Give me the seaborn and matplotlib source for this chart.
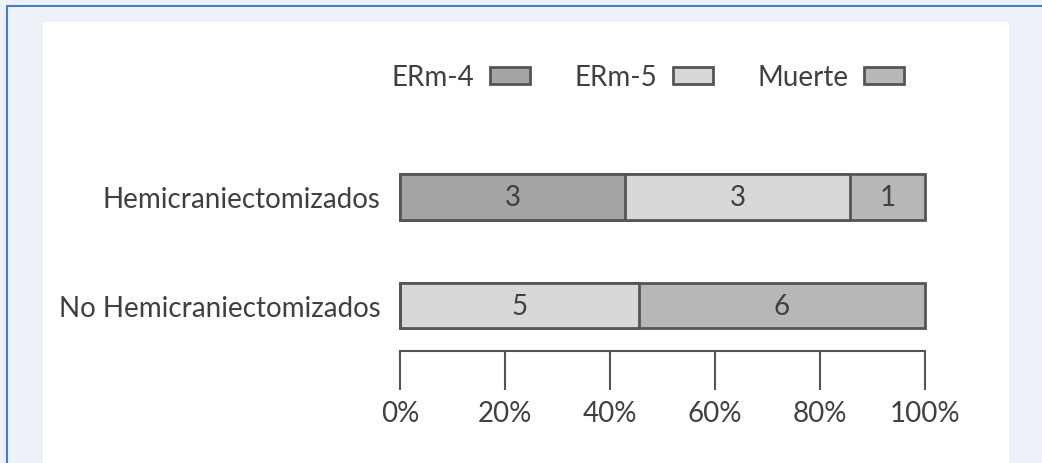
import numpy as np
import pandas as pd
import matplotlib
matplotlib.use("Agg")
import matplotlib.pyplot as plt
import seaborn as sns
from matplotlib.patches import Patch, Rectangle
from matplotlib.lines import Line2D
from matplotlib.ticker import PercentFormatter

# data
groups = ["Hemicraniectomizados", "No Hemicraniectomizados"]
series = ["ERm-4", "ERm-5", "Muerte"]
erm4 = [3, 0]
erm5 = [3, 5]
muerte = [1, 6]
colors = ["#a4a5a7", "#d7d8da", "#b6b7b9"]

sns.set_theme(style="white")
plt.rcParams["font.family"] = ["Lato", "DejaVu Sans"]
text_col = "#404040"
edge_col = "#555555"
fs = 20

counts = np.array([erm4, erm5, muerte], dtype=float)
props = counts / counts.sum(axis=0)
cum = np.cumsum(props, axis=0)

fig = plt.figure(figsize=(10.42, 4.64), dpi=100)
fig.patch.set_facecolor("#eef1f8")
# white panel and blue frame
fig.patches.append(Rectangle((43 / 1042, 0), (1009 - 43) / 1042, 1 - 23 / 464,
                             transform=fig.transFigure, facecolor="white",
                             edgecolor="none", zorder=-1))
fig.lines.append(Line2D([7 / 1042, 7 / 1042], [0, 1 - 7 / 464], transform=fig.transFigure,
                        color="#4a7ebb", lw=1.5))
fig.lines.append(Line2D([7 / 1042, 1], [1 - 7 / 464, 1 - 7 / 464], transform=fig.transFigure,
                        color="#4a7ebb", lw=1.5))

ax = fig.add_axes([400 / 1042, 1 - 352 / 464, 525 / 1042, (352 - 143.5) / 464])
ax.set_facecolor("none")

# stacked bars drawn as layered cumulative bars, widest first
for i in reversed(range(len(series))):
    df = pd.DataFrame({"grupo": groups, "valor": cum[i]})
    sns.barplot(data=df, x="valor", y="grupo", color=colors[i], saturation=1,
                width=0.413, edgecolor=edge_col, linewidth=2.0, ax=ax, orient="h")
for p in ax.patches:
    p.set_clip_on(False)

for i in range(len(series)):
    for j in range(len(groups)):
        if counts[i, j] > 0:
            ax.text(cum[i, j] - props[i, j] / 2, j, f"{int(counts[i, j])}",
                    ha="center", va="center", fontsize=fs, color=text_col)

ax.set_xlim(0, 1)
ax.set_ylim(1.413, -0.5)
ax.set_xlabel("")
ax.set_ylabel("")
ax.set_xticks(np.linspace(0, 1, 6))
ax.xaxis.set_major_formatter(PercentFormatter(1.0, decimals=0))
sns.despine(ax=ax, left=True, top=True, right=True)
ax.spines["bottom"].set_color(edge_col)
ax.spines["bottom"].set_linewidth(1.5)
ax.tick_params(axis="x", direction="out", length=28, width=1.5, color=edge_col,
               labelsize=fs, labelcolor=text_col, pad=7, bottom=True)
ax.tick_params(axis="y", length=0, labelsize=fs, labelcolor=text_col, pad=14)

handles = [Patch(facecolor=c, edgecolor=edge_col, linewidth=2.0) for c in colors]
fig.legend(handles, series, ncol=3, loc="center", bbox_to_anchor=(648 / 1042, 1 - 78 / 464),
           frameon=False, markerfirst=False, fontsize=fs, labelcolor=text_col,
           handlelength=1.45, handleheight=0.55, handletextpad=0.55, columnspacing=1.6)

fig.savefig("out.png", dpi=100)
